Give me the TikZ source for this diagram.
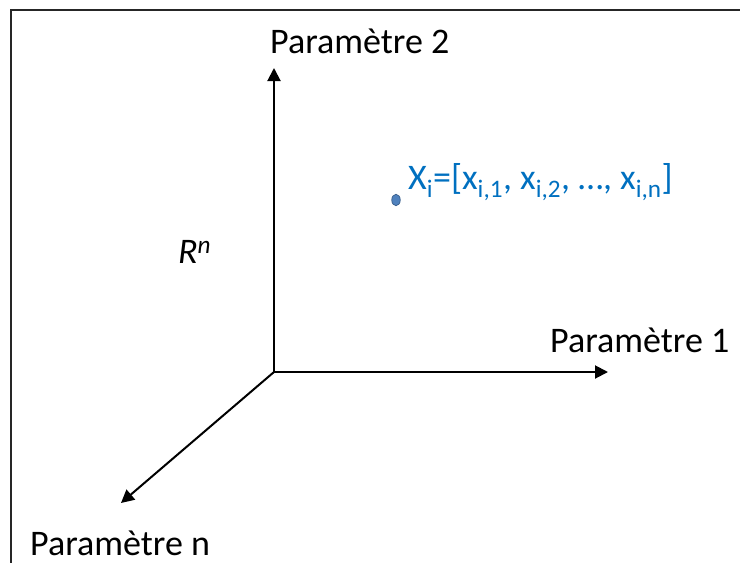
\documentclass[tikz,border=0pt]{standalone}
\usepackage{fontspec}
\setmainfont{Carlito}
\usetikzlibrary{arrows.meta,shapes.geometric}
\definecolor{txtblue}{HTML}{0070C0}
\definecolor{dotfill}{HTML}{4F81BD}
\definecolor{dotline}{HTML}{385D8A}
\definecolor{framegray}{HTML}{262626}
\tikzset{
  axis/.style={line width=2pt, -{Triangle[length=13pt,width=13pt]}},
  lbl/.style={font=\fontsize{36}{42}\selectfont, inner sep=0pt},
}
\begin{document}
\begin{tikzpicture}[x=1pt,y=-1pt]
\useasboundingbox (0,0) rectangle (740,563);
\draw[framegray, line width=2pt] (11,563) -- (11,10) -- (740,10);
\coordinate (O) at (274,372);
\coordinate (E2) at (274,68);
\coordinate (E1) at (608,372);
\coordinate (En) at (121,503);
\draw[axis] (O) -- (E2);
\draw[axis] (O) -- (E1);
\draw[axis] (O) -- (En);
\node[lbl, anchor=base west] (p2) at (270,53) {Paramètre 2};
\node[lbl, anchor=base west] (p1) at (550,352) {Paramètre 1};
\node[lbl, anchor=base west] (pn) at (30,555) {Paramètre n};
\node[lbl, anchor=base west] (rn) at (178,263) {\itshape R\textsuperscript{n}};
\node[draw=dotline, fill=dotfill, line width=0.7pt, ellipse, minimum width=8.5pt, minimum height=11.5pt, inner sep=0pt] (dot) at (396,200) {};
\node[lbl, anchor=base west, text=txtblue] (xi) at (408,189) {X\textsubscript{i}=[x\textsubscript{i,1}, x\textsubscript{i,2}, …, x\textsubscript{i,n}]};
\end{tikzpicture}
\end{document}
